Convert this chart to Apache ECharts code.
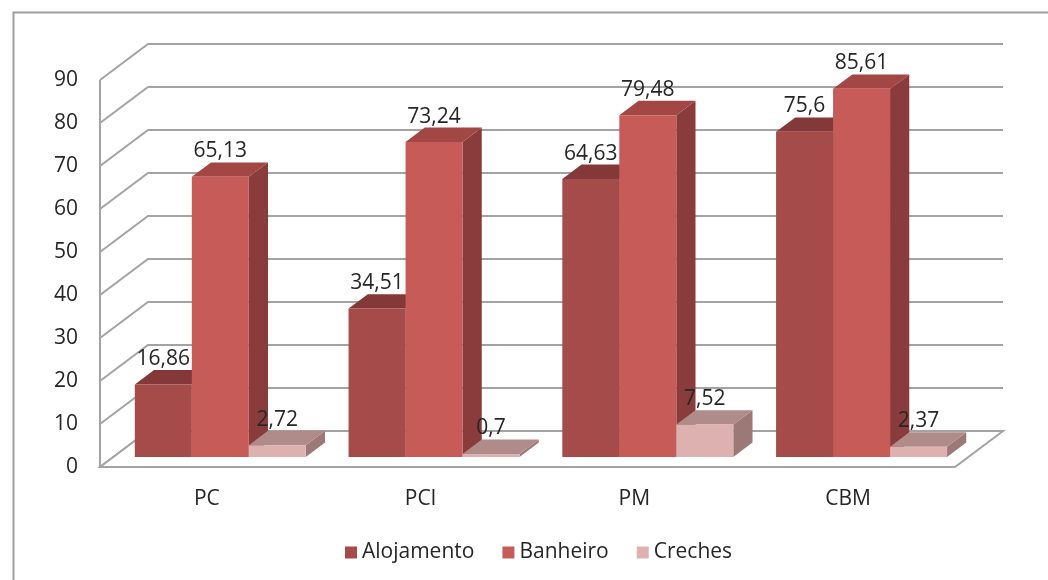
<!DOCTYPE html>
<html>
<head>
<meta charset="utf-8">
<script src="https://cdn.jsdelivr.net/npm/echarts@6/dist/echarts.min.js"></script>
<style>
html,body{margin:0;padding:0;background:#fff;}
#chart{width:1048px;height:580px;}
</style>
</head>
<body>
<div id="chart"></div>
<script>
// ---- data ----
const categories = ['PC', 'PCI', 'PM', 'CBM'];
const seriesNames = ['Alojamento', 'Banheiro', 'Creches'];
const alojamento = [16.86, 34.51, 64.63, 75.6];
const banheiro = [65.13, 73.24, 79.48, 85.61];
const creches = [2.72, 0.7, 7.52, 2.37];
const yTicks = [0, 10, 20, 30, 40, 50, 60, 70, 80, 90];

// ---- style ----
const FONT = 'Open Sans';
const FS = 21;
const TXT = '#262626';
const DX = 48, DY = -36;      // full depth vector of the 3D box
const F0 = 0.28;              // bar front plane depth fraction
const BD = 0.40;              // bar depth fraction
const palette = [
  {front: '#A54B4A', top: '#843938', side: '#7A3433'},
  {front: '#C65B58', top: '#A34745', side: '#893C3B'},
  {front: '#DDB1B0', top: '#AF8B8A', side: '#9C7877'}
];
const GRID_COLOR = '#A3A3A3';

function fmt(v) { return String(v).replace('.', ','); }

function barRenderer(k) {
  return function (params, api) {
    const cat = api.value(0), v = api.value(1);
    const base = api.coord([cat, 0]);
    const top = api.coord([cat, v]);
    const band = api.size([1, 0])[0];
    const w = band * 0.8 / 3;
    const x0 = base[0] - band * 0.4 + k * w + F0 * DX;
    const yb = base[1] + F0 * DY;
    const yt = top[1] + F0 * DY;
    const dx = BD * DX, dy = BD * DY;
    const c = palette[k];
    return {
      type: 'group',
      children: [
        {type: 'polygon', shape: {points: [[x0 + w, yt], [x0 + w + dx, yt + dy], [x0 + w + dx, yb + dy], [x0 + w, yb]]},
         style: {fill: c.side}},
        {type: 'polygon', shape: {points: [[x0, yt], [x0 + w, yt], [x0 + w + dx, yt + dy], [x0 + dx, yt + dy]]},
         style: {fill: c.top}},
        {type: 'rect', shape: {x: x0, y: yt, width: w, height: yb - yt}, style: {fill: c.front}},
        {type: 'text', z2: 100, style: {text: fmt(v), x: x0 + w / 2, y: yt + dy - 11,
          align: 'center', verticalAlign: 'middle', fill: TXT, font: FS + 'px "' + FONT + '"'}}
      ]
    };
  };
}

function wallRenderer(params, api) {
  const v = api.value(1);
  const cs = params.coordSys;
  const y = api.coord([0, v])[1];
  const xl = cs.x, xr = cs.x + cs.width;
  const children = [
    {type: 'polyline', shape: {points: [[xl, y], [xl + DX, y + DY], [xr + DX, y + DY]]},
     style: {stroke: GRID_COLOR, lineWidth: 2, fill: null}}
  ];
  if (v === 0) {
    const ytop = api.coord([0, yTicks[yTicks.length - 1]])[1];
    children.push({type: 'polygon', shape: {points: [[xl, y], [xr, y], [xr + DX, y + DY], [xl + DX, y + DY]]},
      style: {fill: '#ffffff', stroke: GRID_COLOR, lineWidth: 2}});
    children.push({type: 'line', shape: {x1: xl, y1: y, x2: xl, y2: ytop},
      style: {stroke: GRID_COLOR, lineWidth: 2}});
  }
  return {type: 'group', children: children};
}

const chart = echarts.init(document.getElementById('chart'));
const dataSets = [alojamento, banheiro, creches];

const series = [{
  type: 'custom',
  name: 'walls',
  silent: true,
  z: 1,
  renderItem: wallRenderer,
  data: yTicks.map(t => [0, t]),
  encode: {x: 0, y: 1}
}];
dataSets.forEach((arr, k) => {
  series.push({
    type: 'custom',
    name: seriesNames[k],
    z: 2,
    itemStyle: {color: palette[k].front},
    renderItem: barRenderer(k),
    data: arr.map((v, i) => [i, v]),
    encode: {x: 0, y: 1}
  });
});

chart.setOption({
  animation: false,
  backgroundColor: '#ffffff',
  textStyle: {fontFamily: FONT},
  graphic: [{
    type: 'rect', left: 11, top: 10, silent: true,
    shape: {width: 1100, height: 600},
    style: {fill: null, stroke: '#A0A0A0', lineWidth: 2}, z: 0
  }],
  grid: {left: 100, top: 80, width: 855, height: 387, containLabel: false},
  xAxis: {
    type: 'category',
    data: categories,
    boundaryGap: true,
    axisLine: {show: false},
    axisTick: {show: false},
    axisLabel: {fontSize: FS, color: TXT, margin: 22, fontFamily: FONT}
  },
  yAxis: {
    type: 'value',
    min: 0, max: 90, interval: 10,
    axisLine: {show: false},
    axisTick: {show: false},
    splitLine: {show: false},
    axisLabel: {fontSize: FS, color: TXT, margin: 22, fontFamily: FONT}
  },
  legend: {
    data: seriesNames,
    top: 542,
    left: 345,
    padding: 0,
    icon: 'rect',
    itemWidth: 12, itemHeight: 12, itemGap: 28,
    textStyle: {fontSize: FS, color: TXT, fontFamily: FONT}
  },
  series: series
});
</script>
</body>
</html>
